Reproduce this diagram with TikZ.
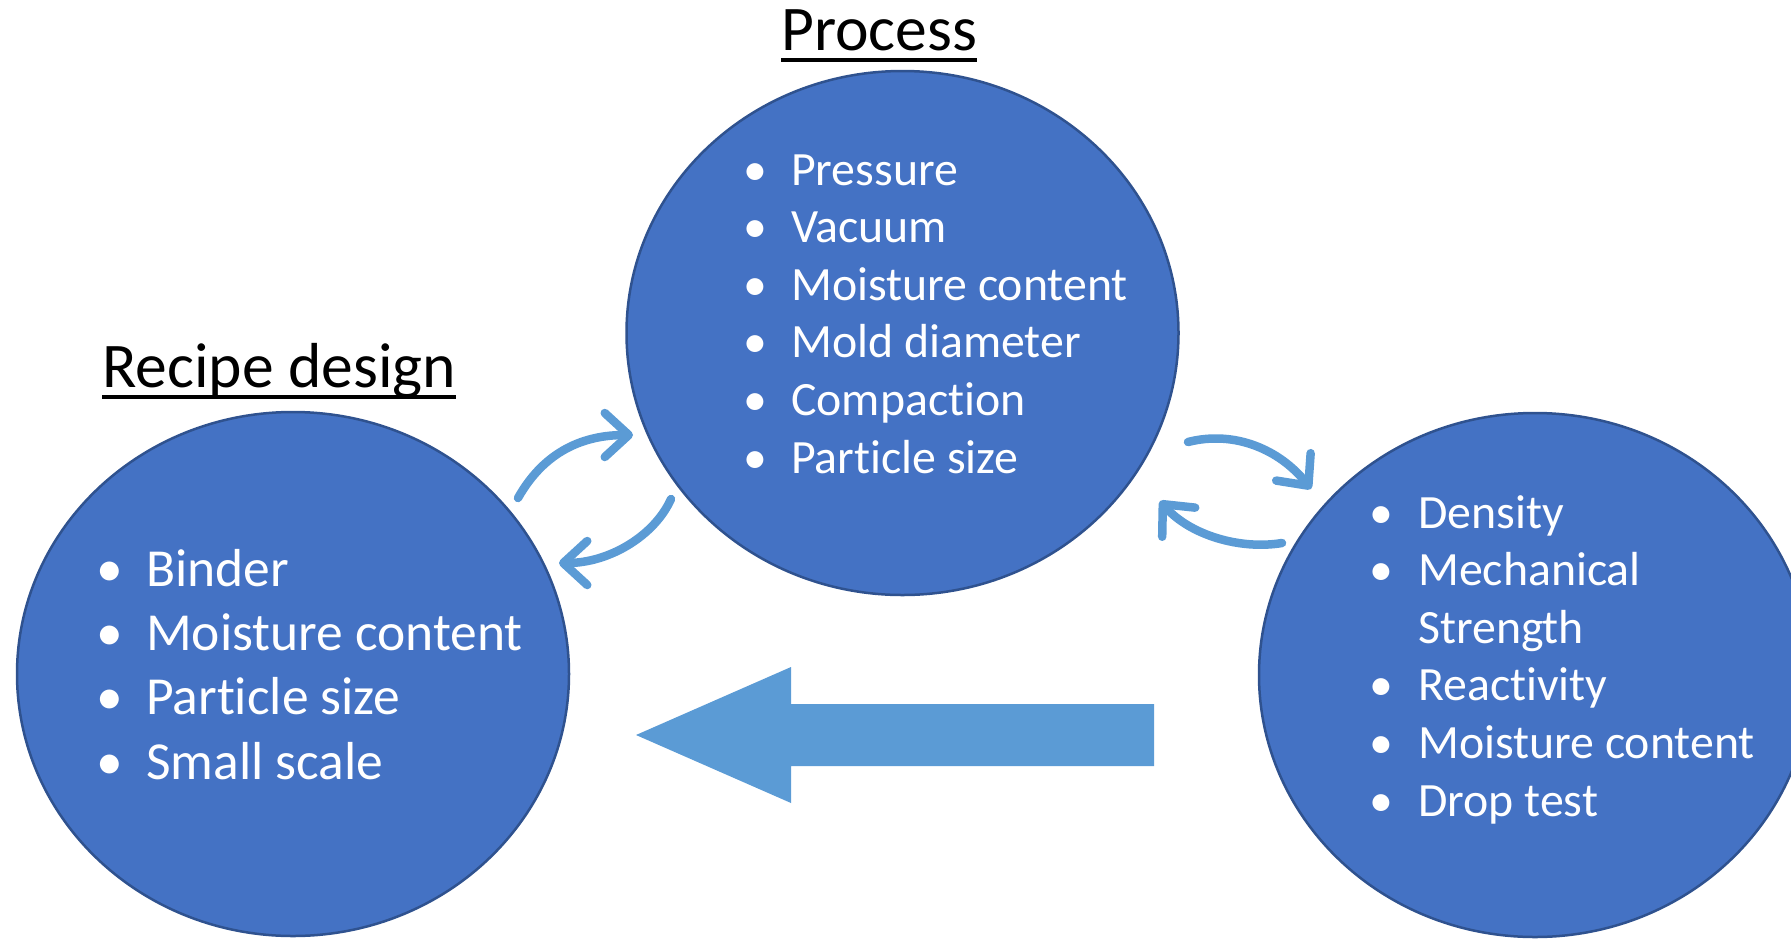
\documentclass[tikz,border=0pt]{standalone}
\usepackage{fontspec}
\setmainfont{Carlito}[Ligatures=NoCommon]
\usetikzlibrary{shapes.geometric,arrows.meta}
\definecolor{fillblue}{HTML}{4472C4}
\definecolor{edgeblue}{HTML}{2F528F}
\definecolor{arrowblue}{HTML}{5B9BD5}
\newcommand{\bulA}{\makebox[0pt][c]{\textbullet}\hspace{36pt}}
\newcommand{\bulB}{\makebox[0pt][c]{\textbullet}\hspace{37pt}}
\begin{document}
\begin{tikzpicture}[x=1pt,y=-1pt,
  blob/.style={ellipse, fill=fillblue, draw=edgeblue, line width=2.5pt,
    minimum width=552pt, minimum height=524pt, inner sep=0pt},
  titletext/.style={anchor=base west, inner sep=0pt, text=black,
    font=\fontsize{63.6}{76}\selectfont},
  smallitem/.style={anchor=base west, inner sep=0pt, text=white,
    font=\fontsize{47.8}{57}\selectfont},
  bigitem/.style={anchor=base west, inner sep=0pt, text=white,
    font=\fontsize{53.5}{64}\selectfont},
  curvy/.style={draw=arrowblue, line width=8.5pt, line cap=round,
    -{Straight Barb[length=24pt,width=44pt,round]}},
  uline/.style={line width=4pt, black},
]
\useasboundingbox (0,0) rectangle (1791,938);

% ellipses
\node[blob] (recipe) at (293,674) {};
\node[blob] (process) at (902.5,333) {};
\node[blob] (props) at (1535,675) {};

% titles
\node[titletext] (ptitle) at (781,50) {Process};
\draw[uline] ([yshift=-10pt]ptitle.base west) -- ([yshift=-10pt]ptitle.base east);
\node[titletext] (rtitle) at (102,387) {Recipe design};
\draw[uline] ([yshift=-10pt]rtitle.base west) -- ([yshift=-10pt]rtitle.base east);

% process items
\foreach \t [count=\i from 0] in {Pressure, Vacuum, Moisture content, Mold diameter, Compaction, Particle size}
  \node[smallitem] (p\i) at (755, 185+57.6*\i) {\bulA\t};

% recipe items
\foreach \t [count=\i from 0] in {Binder, Moisture content, Particle size, Small scale}
  \node[bigitem] (r\i) at (110, 586+64.4*\i) {\bulA\t};

% properties items
\node[smallitem] (q0) at (1381, 528) {\bulB Density};
\node[smallitem] (q1) at (1381, 585.6) {\bulB Mechanical};
\node[smallitem] (q2) at (1381, 643.2) {\makebox[0pt][c]{}\hspace{37pt}Strength};
\node[smallitem] (q3) at (1381, 700.8) {\bulB Reactivity};
\node[smallitem] (q4) at (1381, 758.4) {\bulB Moisture content};
\node[smallitem] (q5) at (1381, 816) {\bulB Drop test};

% big block arrow
\fill[arrowblue] (636,735) -- (791,667) -- (791,704) -- (1154,704) -- (1154,766)
  -- (791,766) -- (791,803) -- cycle;

% curved arrows
\coordinate (a1s) at (518,498); \coordinate (a1e) at (633,435);
\draw[curvy] (a1s) .. controls (545,450) and (585,435) .. (a1e);
\coordinate (a2s) at (671,499); \coordinate (a2e) at (559,563);
\draw[curvy] (a2s) .. controls (655,535) and (610,563) .. (a2e);
\coordinate (a3s) at (1188,442); \coordinate (a3e) at (1311,489);
\draw[curvy] (a3s) .. controls (1235,430) and (1280,450) .. (a3e);
\coordinate (a4s) at (1282,543); \coordinate (a4e) at (1160,501);
\draw[curvy] (a4s) .. controls (1240,550) and (1190,535) .. (a4e);
\end{tikzpicture}
\end{document}
